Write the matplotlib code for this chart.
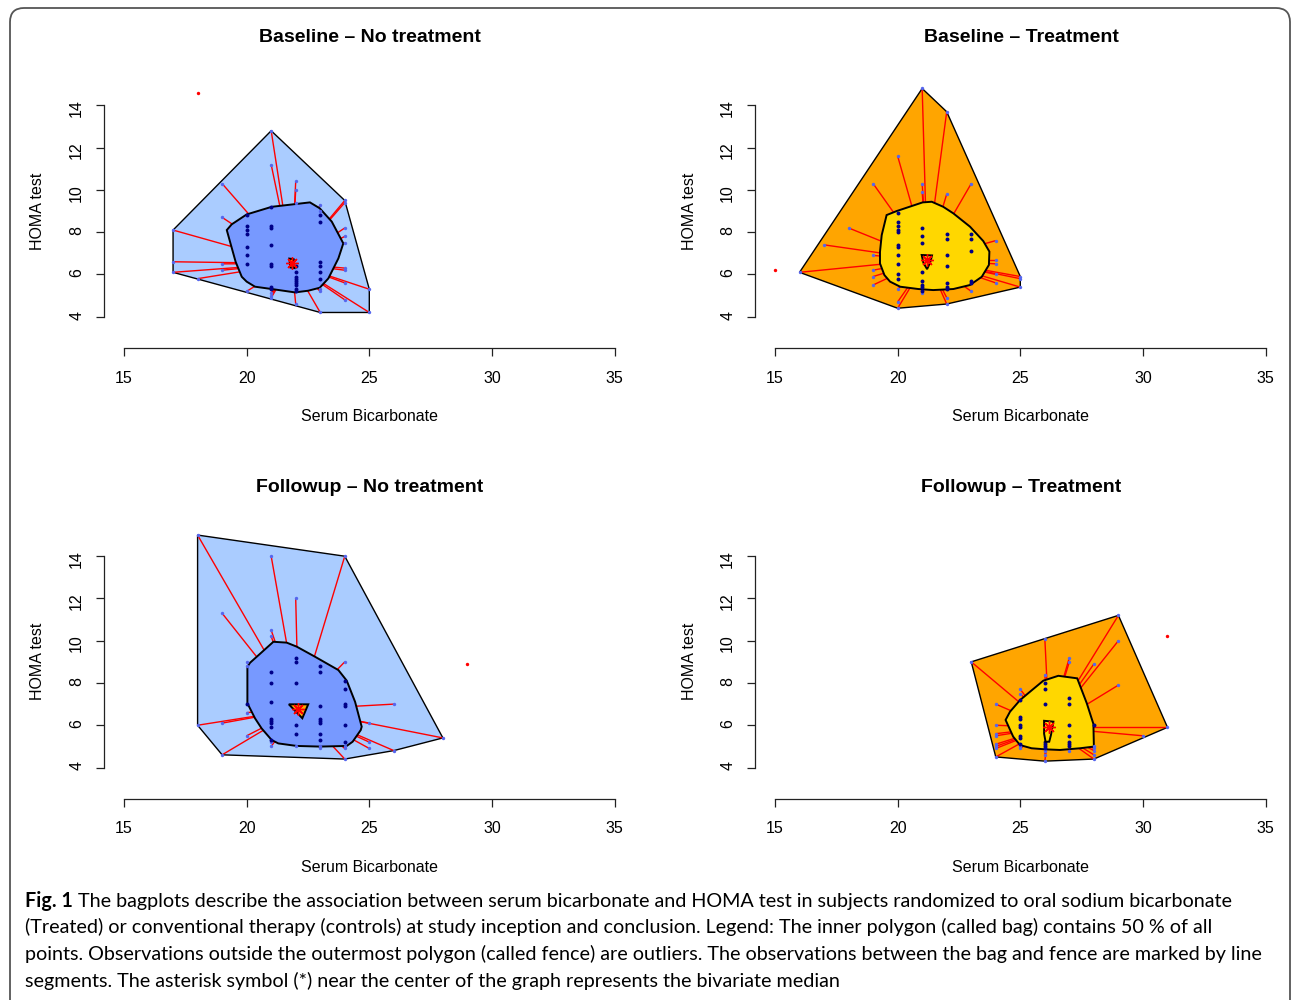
import matplotlib
matplotlib.use("Agg")
import matplotlib.pyplot as plt
from matplotlib.patches import Polygon, FancyBboxPatch
from matplotlib.collections import LineCollection
from matplotlib.transforms import IdentityTransform

# ---------------- data ----------------
titles = ["Baseline – No treatment", "Baseline – Treatment",
          "Followup – No treatment", "Followup – Treatment"]
x_label = "Serum Bicarbonate"
y_label = "HOMA test"
x_ticks = [15, 20, 25, 30, 35]
y_ticks = [4, 6, 8, 10, 12, 14]

# Panel 1: Baseline - No treatment
p1_bag_x = [20, 20, 20, 20, 20, 20, 20, 21, 21, 21, 21, 21, 21, 21, 21,
            22, 22, 22, 22, 22, 22, 22, 22, 22, 23, 23, 23, 23, 23, 23]
p1_bag_y = [8.8, 8.3, 8.1, 7.9, 7.3, 6.9, 6.5, 9.2, 8.3, 8.2, 7.4, 6.5, 6.4, 5.4, 5.3,
            6.4, 6.1, 5.9, 5.8, 5.7, 5.6, 5.5, 5.3, 5.2, 8.8, 8.5, 6.6, 6.4, 6.1, 5.8]
p1_loop_x = [17, 17, 17, 18, 19, 19, 19, 19, 20, 21, 21, 21, 21, 21, 22, 22, 22,
             22, 23, 23, 23, 23, 23, 24, 24, 24, 24, 24, 24, 24, 24, 24, 25, 25]
p1_loop_y = [8.1, 6.6, 6.1, 5.8, 10.3, 8.7, 6.5, 6.2, 5.2, 12.8, 11.2, 5.1, 5.0, 4.9,
             10.4, 10.0, 9.4, 4.6, 9.3, 9.0, 5.3, 5.2, 4.2, 9.5, 9.4, 8.2, 7.8, 7.5,
             6.3, 6.2, 5.6, 4.8, 5.3, 4.2]
p1_out_x = [18]
p1_out_y = [14.6]
p1_center = [21.84, 6.52]
p1_bag_hull_x = [19.19, 19.39, 20.0, 21.02, 22.58, 22.98, 23.47, 23.94, 23.74, 23.33,
                 22.98, 22.51, 21.97, 21.02, 20.34, 20.0, 19.8, 19.55]
p1_bag_hull_y = [8.10, 8.37, 8.84, 9.2, 9.41, 9.13, 8.5, 7.47, 6.76, 5.81,
                 5.37, 5.23, 5.15, 5.31, 5.42, 5.66, 5.89, 6.6]
p1_center_hull_x = [21.74, 21.92, 21.95, 21.78]
p1_center_hull_y = [6.75, 6.72, 6.30, 6.33]

# Panel 2: Baseline - Treatment
p2_bag_x = [20, 20, 20, 20, 20, 20, 20, 20, 20, 20, 20, 21, 21, 21, 21, 21, 21, 21, 21,
            22, 22, 22, 22, 22, 22, 22, 23, 23, 23, 23, 23]
p2_bag_y = [8.9, 8.5, 8.3, 8.1, 8.0, 7.4, 7.3, 6.9, 6.5, 6.0, 5.8,
            8.2, 7.8, 7.5, 6.1, 5.7, 5.5, 5.4, 5.2,
            7.9, 7.7, 6.9, 6.4, 5.6, 5.4, 5.3, 7.9, 7.7, 7.1, 5.7, 5.6]
p2_loop_x = [16, 17, 18, 19, 19, 19, 19, 19, 20, 20, 20, 20, 21, 21, 21, 21,
             22, 22, 22, 22, 23, 23, 24, 24, 24, 24, 24, 25, 25, 25]
p2_loop_y = [6.1, 7.4, 8.2, 10.3, 6.9, 6.2, 5.9, 5.5, 11.6, 5.3, 4.7, 4.4,
             14.8, 10.3, 9.9, 5.1, 13.7, 9.8, 4.9, 4.6, 10.3, 5.2,
             7.6, 6.7, 6.5, 6.0, 5.6, 5.9, 5.8, 5.4]
p2_out_x = [15]
p2_out_y = [6.2]
p2_center = [21.2, 6.7]
p2_bag_hull_x = [19.55, 19.96, 21.02, 21.39, 21.86, 22.27, 22.95, 23.49, 23.74, 23.72,
                 23.43, 22.95, 22.27, 21.45, 20.84, 20.1, 19.69, 19.46, 19.28, 19.28, 19.35]
p2_bag_hull_y = [8.81, 9.0, 9.41, 9.44, 9.2, 8.89, 8.26, 7.58, 7.08, 6.45,
                 5.89, 5.5, 5.31, 5.26, 5.31, 5.42, 5.66, 5.97, 6.52, 7.07, 7.86]
p2_center_hull_x = [20.98, 21.40, 21.33, 21.20, 21.05]
p2_center_hull_y = [6.92, 6.90, 6.58, 6.25, 6.55]

# Panel 3: Followup - No treatment
p3_bag_x = [20, 21, 21, 21, 21, 21, 21, 21, 21, 22, 22, 22, 22, 22,
            23, 23, 23, 23, 23, 23, 23, 23, 24, 24, 24, 24, 24, 24]
p3_bag_y = [7.0, 8.5, 8.0, 7.1, 6.3, 6.2, 6.1, 5.9, 5.3, 9.2, 9.0, 8.0, 6.0, 5.6,
            8.8, 8.5, 6.9, 6.3, 6.2, 6.1, 5.6, 5.3, 8.1, 7.7, 7.0, 6.9, 6.0, 5.2]
p3_loop_x = [18, 18, 19, 19, 19, 20, 20, 20, 20, 21, 21, 21, 21, 21, 22, 22,
             23, 23, 24, 24, 24, 24, 24, 25, 25, 25, 26, 26, 28]
p3_loop_y = [15.0, 6.0, 11.3, 6.1, 4.6, 9.0, 8.8, 6.6, 5.5, 14.0, 10.5, 10.2, 5.2, 5.0,
             12.0, 5.0, 5.0, 4.9, 14.0, 9.0, 5.0, 4.9, 4.4, 6.1, 5.2, 4.9, 7.0, 4.8, 5.4]
p3_out_x = [29]
p3_out_y = [8.9]
p3_center = [22.11, 6.75]
p3_bag_hull_x = [20.41, 21.09, 21.63, 22.04, 22.79, 23.74, 24.08, 24.42, 24.69, 24.65,
                 24.32, 24.08, 22.99, 22.04, 21.29, 21.02, 20.61, 20.34, 20.03, 20.03, 20.14]
p3_bag_hull_y = [9.24, 9.95, 9.91, 9.72, 9.24, 8.61, 8.11, 7.11, 5.93, 5.77,
                 5.22, 5.02, 4.99, 5.02, 5.14, 5.3, 5.85, 6.33, 7.04, 8.77, 8.96]
p3_center_hull_x = [21.72, 22.51, 22.27]
p3_center_hull_y = [6.99, 6.99, 6.33]

# Panel 4: Followup - Treatment
p4_bag_x = [25, 25, 25, 25, 25, 25, 25, 25, 26, 26, 26, 26, 26, 26, 26,
            27, 27, 27, 27, 27, 27, 27, 28]
p4_bag_y = [7.2, 6.4, 6.3, 6.0, 5.9, 5.5, 5.4, 5.1, 8.0, 7.7, 7.0, 5.2, 5.1, 5.0, 4.9,
            7.3, 7.0, 6.0, 5.5, 5.2, 5.1, 5.0, 6.0]
p4_loop_x = [23, 24, 24, 24, 24, 24, 24, 24, 24, 25, 25, 25, 25, 26, 26, 26, 26, 26,
             27, 27, 27, 28, 28, 28, 28, 28, 28, 29, 29, 29, 30, 31]
p4_loop_y = [9.0, 7.0, 6.0, 5.6, 5.5, 5.1, 5.0, 4.9, 4.5, 7.7, 7.5, 5.0, 4.9,
             10.1, 8.4, 4.8, 4.6, 4.3, 9.2, 9.0, 4.8, 8.9, 5.0, 4.9, 4.8, 4.6, 4.4,
             11.2, 10.0, 7.9, 5.5, 5.9]
p4_out_x = [31]
p4_out_y = [10.2]
p4_center = [26.18, 5.9]
p4_bag_hull_x = [24.4, 24.58, 24.99, 25.4, 25.94, 26.55, 27.32, 27.71, 27.98, 28.0,
                 27.43, 26.62, 26.01, 25.46, 24.99, 24.71]
p4_bag_hull_y = [6.25, 6.64, 7.19, 7.59, 8.11, 8.34, 8.22, 7.04, 6.06, 4.99,
                 4.91, 4.83, 4.86, 4.91, 5.06, 5.46]
p4_center_hull_x = [25.97, 26.35, 26.25, 26.18, 26.03, 25.97]
p4_center_hull_y = [6.21, 6.17, 5.54, 5.22, 5.22, 5.60]

caption_bold = "Fig. 1"
caption_lines = [
    "The bagplots describe the association between serum bicarbonate and HOMA test in subjects randomized to oral sodium bicarbonate",
    "(Treated) or conventional therapy (controls) at study inception and conclusion. Legend: The inner polygon (called bag) contains 50 % of all",
    "points. Observations outside the outermost polygon (called fence) are outliers. The observations between the bag and fence are marked by line",
    "segments. The asterisk symbol (*) near the center of the graph represents the bivariate median",
]

# ---------------- helpers ----------------
def convex_hull(xs, ys):
    pts = sorted(set(zip(xs, ys)))
    if len(pts) < 3:
        return pts
    def cross(o, a, b):
        return (a[0]-o[0])*(b[1]-o[1]) - (a[1]-o[1])*(b[0]-o[0])
    lower = []
    for p in pts:
        while len(lower) >= 2 and cross(lower[-2], lower[-1], p) <= 0:
            lower.pop()
        lower.append(p)
    upper = []
    for p in reversed(pts):
        while len(upper) >= 2 and cross(upper[-2], upper[-1], p) <= 0:
            upper.pop()
        upper.append(p)
    return lower[:-1] + upper[:-1]

plt.rcParams['font.family'] = ['Liberation Sans', 'DejaVu Sans']

W, H = 1292, 1000
SX, SY = 24.53, 21.13     # pixels per data unit
fig = plt.figure(figsize=(W/100, H/100), dpi=100)

# outer frame
frame = FancyBboxPatch((10, -30), 1280, 1022, boxstyle="round,pad=0,rounding_size=14",
                       transform=IdentityTransform(), fc='none', ec='#555555', lw=1.3)
fig.patches.append(frame)

panels = [
    dict(bx=p1_bag_x, by=p1_bag_y, lx=p1_loop_x, ly=p1_loop_y, ox=p1_out_x, oy=p1_out_y,
         c=p1_center, hx=p1_bag_hull_x, hy=p1_bag_hull_y, cx=p1_center_hull_x, cy=p1_center_hull_y,
         loopc='#aaccff', bagc='#7799ff', cenc='orange', origin=(124, 316.7)),
    dict(bx=p2_bag_x, by=p2_bag_y, lx=p2_loop_x, ly=p2_loop_y, ox=p2_out_x, oy=p2_out_y,
         c=p2_center, hx=p2_bag_hull_x, hy=p2_bag_hull_y, cx=p2_center_hull_x, cy=p2_center_hull_y,
         loopc='#ffa500', bagc='#ffd700', cenc='#ffd700', origin=(775, 316.7)),
    dict(bx=p3_bag_x, by=p3_bag_y, lx=p3_loop_x, ly=p3_loop_y, ox=p3_out_x, oy=p3_out_y,
         c=p3_center, hx=p3_bag_hull_x, hy=p3_bag_hull_y, cx=p3_center_hull_x, cy=p3_center_hull_y,
         loopc='#aaccff', bagc='#7799ff', cenc='orange', origin=(124, 767.5)),
    dict(bx=p4_bag_x, by=p4_bag_y, lx=p4_loop_x, ly=p4_loop_y, ox=p4_out_x, oy=p4_out_y,
         c=p4_center, hx=p4_bag_hull_x, hy=p4_bag_hull_y, cx=p4_center_hull_x, cy=p4_center_hull_y,
         loopc='#ffa500', bagc='#ffd700', cenc='#ffd700', origin=(775, 767.5)),
]

PL, PR, PT, PB = 40, 30, 90, 50
for i, p in enumerate(panels):
    X15, Y4 = p['origin']
    l = X15 - PL
    r = X15 + 20*SX + PR
    t = Y4 - 10*SY - PT
    b = Y4 + PB
    ax = fig.add_axes([l/W, 1 - b/H, (r-l)/W, (b-t)/H])
    ax.set_xlim(15 - PL/SX, 35 + PR/SX)
    ax.set_ylim(4 - PB/SY, 14 + PT/SY)
    ax.patch.set_visible(False)
    for s in ['top', 'right']:
        ax.spines[s].set_visible(False)
    ax.spines['left'].set_position(('data', 15 - 20/SX))
    ax.spines['left'].set_bounds(4, 14)
    ax.spines['bottom'].set_position(('data', 4 - 31.3/SY))
    ax.spines['bottom'].set_bounds(15, 35)
    for s in ['left', 'bottom']:
        ax.spines[s].set_linewidth(0.9)
        ax.spines[s].set_color('#222222')
    ax.set_xticks(x_ticks)
    ax.set_yticks(y_ticks)
    ax.tick_params(length=5.8, width=0.9, labelsize=11.5, color='#222222')
    ax.tick_params(axis='x', pad=10.5)
    ax.tick_params(axis='y', pad=8.5, labelrotation=90)

    # loop (fence hull)
    hull = convex_hull(p['bx'] + p['lx'], p['by'] + p['ly'])
    ax.add_patch(Polygon(hull, closed=True, fc=p['loopc'], ec='black', lw=1.0, zorder=1))
    # whiskers from loop points to center
    segs = [[(x, y), (p['c'][0], p['c'][1])] for x, y in zip(p['lx'], p['ly'])]
    ax.add_collection(LineCollection(segs, colors='red', linewidths=1.0, zorder=2))
    # bag
    ax.add_patch(Polygon(list(zip(p['hx'], p['hy'])), closed=True, fc=p['bagc'], ec='black',
                         lw=1.4, zorder=3))
    # points
    ax.scatter(p['lx'], p['ly'], s=6, color='#5566ee', lw=0, zorder=4)
    ax.scatter(p['bx'], p['by'], s=8, color='#000088', lw=0, zorder=5)
    ax.scatter(p['ox'], p['oy'], s=6, color='red', lw=0, zorder=5)
    # center
    ax.add_patch(Polygon(list(zip(p['cx'], p['cy'])), closed=True, fc=p['cenc'], ec='black',
                         lw=1.4, zorder=6))
    ax.plot([p['c'][0]], [p['c'][1]], marker=(8, 2, 0), ms=9, mew=1.0, color='red', zorder=7)

    # titles and labels
    fig.text((X15 + 246)/W, 1 - (Y4 - 279.5)/H, titles[i], ha='center', va='center',
             fontsize=14, fontweight='bold')
    fig.text((X15 + 246)/W, 1 - (Y4 + 99.5)/H, x_label, ha='center', va='center', fontsize=11.5)
    fig.text((X15 - 86)/W, 1 - (Y4 - 105.7)/H, y_label, ha='center', va='center',
             fontsize=11.5, rotation=90)

# caption
renderer = fig.canvas.get_renderer()
cap_font = ['Lato', 'DejaVu Sans']
ys = [901, 927, 954, 981]
size = 13.0
probe = fig.text(25/W, 0.5, caption_lines[2], fontsize=size, family=cap_font)
w = probe.get_window_extent(renderer).width
size = size * 1237.0 / w
probe.remove()

tb = fig.text(25/W, 1 - ys[0]/H, caption_bold, fontsize=size, family=cap_font,
              fontweight='bold', va='center', ha='left')
fig.canvas.draw()
bb = tb.get_window_extent(renderer)
fig.text((bb.x1 + 5)/W, 1 - ys[0]/H, caption_lines[0], fontsize=size, family=cap_font,
         va='center', ha='left')
for k in range(1, 4):
    fig.text(25/W, 1 - ys[k]/H, caption_lines[k], fontsize=size, family=cap_font,
             va='center', ha='left')

fig.savefig("out.png", dpi=100, facecolor='white')
